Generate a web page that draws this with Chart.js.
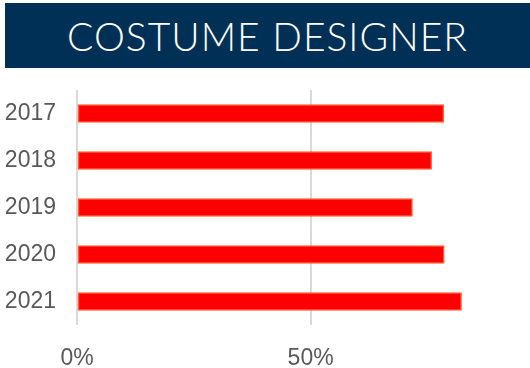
<!DOCTYPE html>
<html>
<head>
<meta charset="utf-8">
<script src="https://cdn.jsdelivr.net/npm/chart.js@4"></script>
<style>
    html, body { margin: 0; padding: 0; background: #ffffff; }
    body { width: 530px; height: 368px; position: relative; overflow: hidden; }
    #header {
        position: absolute; left: 5px; top: 3px; width: 525px; height: 65px;
        background: #013057; color: #ffffff;
        font-family: "Lato", sans-serif; font-weight: 300; font-size: 39px;
        letter-spacing: 1px;
        display: flex; align-items: center; justify-content: center;
    }
    #designerChart { position: absolute; left: 0; top: 72px; }
</style>
</head>
<body>
<div id="header">COSTUME DESIGNER</div>
<canvas id="designerChart" width="530" height="296"></canvas>
<script>
const years = ["2017", "2018", "2019", "2020", "2021"];
const shares = [78.5, 75.9, 71.8, 78.6, 82.3];
const tickSteps = [0, 50];

new Chart("designerChart", {
    type: "bar",
    data: {
        labels: years,
        datasets: [{
            data: shares,
            backgroundColor: "#ff0000",
            borderColor: "#ff5a30",
            borderWidth: 1.5,
            borderSkipped: false,
            barThickness: 18
        }]
    },
    options: {
        indexAxis: "y",
        responsive: false,
        animation: false,
        layout: { padding: { left: 3, right: 4, top: 18, bottom: 0 } },
        plugins: { legend: { display: false }, tooltip: { enabled: false } },
        scales: {
            x: {
                min: 0,
                max: 96.1,
                afterBuildTicks: function (scale) {
                    scale.ticks = tickSteps.map(v => ({ value: v }));
                },
                afterFit: function (scale) {
                    scale.height = 43;
                    scale.paddingLeft = 0;
                    scale.paddingRight = 0;
                },
                grid: { color: "#d9d9d9", lineWidth: 2, drawTicks: false },
                border: { display: false },
                ticks: {
                    color: "#595959",
                    padding: 20,
                    font: { family: "Liberation Sans", size: 23 },
                    callback: v => v + "%"
                }
            },
            y: {
                afterFit: function (scale) {
                    scale.width = 74;
                    scale.paddingTop = 0;
                    scale.paddingBottom = 0;
                },
                grid: { display: false, drawTicks: false },
                border: { display: false },
                ticks: {
                    color: "#595959",
                    padding: 21,
                    font: { family: "Liberation Sans", size: 23 }
                }
            }
        }
    }
});
</script>
</body>
</html>
